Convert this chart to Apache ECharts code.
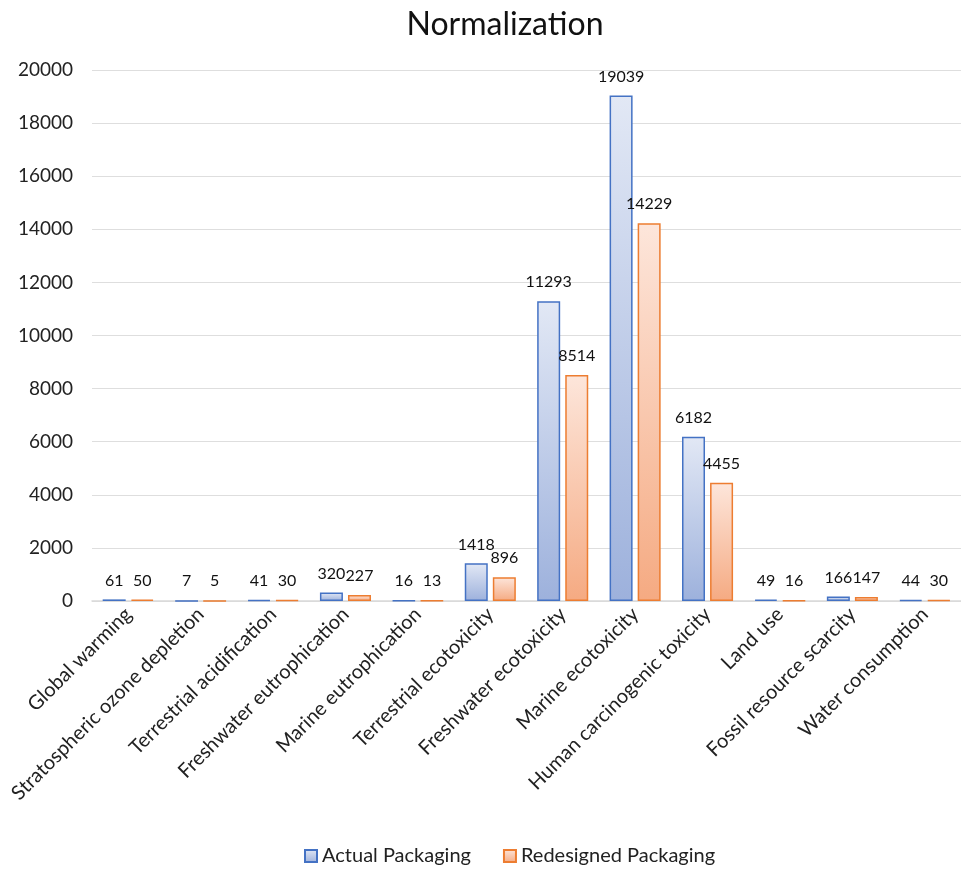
<!DOCTYPE html>
<html><head><meta charset="utf-8">
<script src="https://cdn.jsdelivr.net/npm/echarts@6/dist/echarts.min.js"></script>
<style>html,body{margin:0;padding:0;background:#fff}#c{width:961px;height:870px}</style>
</head><body><div id="c"></div>
<script>
const categories = ["Global warming","Stratospheric ozone depletion","Terrestrial acidification","Freshwater eutrophication","Marine eutrophication","Terrestrial ecotoxicity","Freshwater ecotoxicity","Marine ecotoxicity","Human carcinogenic toxicity","Land use","Fossil resource scarcity","Water consumption"];
const actual = [61,7,41,320,16,1418,11293,19039,6182,49,166,44];
const redesigned = [50,5,30,227,13,896,8514,14229,4455,16,147,30];
const yTicks = {min:0,max:20000,interval:2000};
const FONT = 'Lato';
const chart = echarts.init(document.getElementById('c'));
function grad(a,b){return new echarts.graphic.LinearGradient(0,0,0,1,[{offset:0,color:a},{offset:1,color:b}]);}
chart.setOption({
  animation:false,
  textStyle:{fontFamily:FONT},
  title:{text:'Normalization',left:500,top:4,textAlign:'center',textStyle:{fontFamily:FONT,fontSize:32,fontWeight:'normal',color:'#111'}},
  legend:{bottom:-1,left:299,icon:'rect',itemWidth:12,itemHeight:12,itemGap:32,textStyle:{fontFamily:FONT,fontSize:20,color:'#222'},data:['Actual Packaging','Redesigned Packaging']},
  grid:{left:92,right:-14,top:70,bottom:269},
  xAxis:{type:'category',data:categories,axisTick:{show:false},axisLine:{lineStyle:{color:'#d9d9d9',width:1.5}},
    axisLabel:{rotate:45,interval:0,fontSize:20,color:'#222',margin:10,fontFamily:FONT}},
  yAxis:{type:'value',min:yTicks.min,max:yTicks.max,interval:yTicks.interval,axisLine:{show:false},axisTick:{show:false},
    splitLine:{lineStyle:{color:'#dedede',width:1.2}},axisLabel:{fontSize:19,color:'#222',margin:19,fontFamily:FONT,formatter:v=>String(v)}},
  series:[
    {name:'Actual Packaging',type:'bar',data:actual,barWidth:23,barGap:'22%',
     itemStyle:{color:grad('#e2e8f5','#9db1dc'),borderColor:'#4472c4',borderWidth:1.5},
     label:{show:true,position:'top',distance:11,fontSize:16,color:'#111',fontFamily:FONT}},
    {name:'Redesigned Packaging',type:'bar',data:redesigned,barWidth:23,
     itemStyle:{color:grad('#fde6db','#f5aa82'),borderColor:'#ed7d31',borderWidth:1.5},
     label:{show:true,position:'top',distance:11,fontSize:16,color:'#111',fontFamily:FONT}}
  ]
});
</script></body></html>
